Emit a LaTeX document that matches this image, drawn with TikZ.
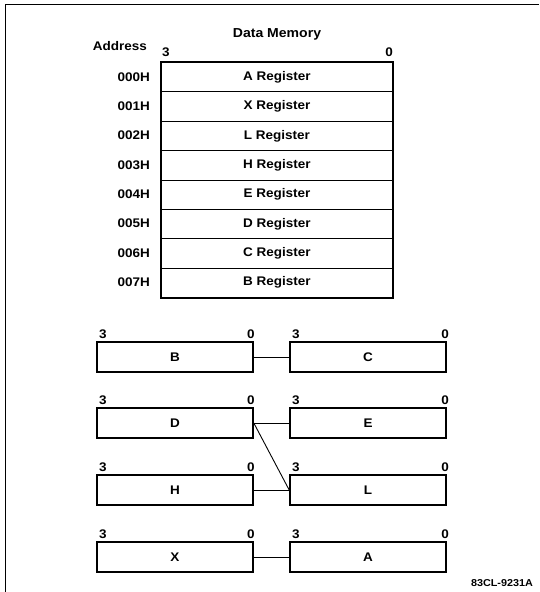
\documentclass[tikz,border=0pt]{standalone}
\usepackage{fontspec}
\setmainfont[FakeStretch=1.08]{Liberation Sans}
\begin{document}
\begin{tikzpicture}[x=1pt,y=-1pt,
  every node/.style={font=\fontsize{12.5}{13}\selectfont\bfseries, inner sep=0pt},
  row/.style={draw, line width=0.9pt, minimum width=231pt, minimum height=29.375pt, anchor=north west},
  reg/.style={draw, line width=1.6pt, minimum width=156pt, minimum height=30pt},
  bit/.style={anchor=south},
  addr/.style={anchor=east},
  link/.style={line width=0.9pt}]
\useasboundingbox (0,0) rectangle (539,592);
% frame
\draw[line width=1.6pt] (5.5,592) -- (5.5,4.5) -- (539,4.5);
% data memory
\node (title) at (277,34) {\fontsize{13}{14}\selectfont Data Memory};
\node (addrhdr) at (120,46) {Address};
\node[bit] (m3) at (166,57) {3};
\node[bit] (m0) at (389,57) {0};
\foreach \i/\r in {0/A,1/X,2/L,3/H,4/E,5/D,6/C,7/B}{
  \node[row] (r\i) at (161,{62+29.375*\i}) {\r{} Register};
  \node[addr] (a\i) at (150,{62+29.375*\i+14.7}) {00\i H};
}
\draw[line width=1.6pt] (r0.north west) rectangle (r7.south east);
% register pairs
\foreach \n/\m/\y in {B/C/357,D/E/423,H/L/490,X/A/557}{
  \node[reg] (\n) at (175,\y) {\n};
  \node[reg] (\m) at (368,\y) {\m};
  \node[bit] (\n3) at (103,\y-18) {3};
  \node[bit] (\n0) at (251,\y-18) {0};
  \node[bit] (\m3) at (296,\y-18) {3};
  \node[bit] (\m0) at (445,\y-18) {0};
}
\draw[link] (B.east) -- (C.west);
\draw[link] (D.east) -- (E.west);
\draw[link] (D.east) -- (L.west);
\draw[link] (H.east) -- (L.west);
\draw[link] (X.east) -- (A.west);
\node (code) at (502,583) {\fontsize{10}{11}\selectfont 83CL-9231A};
\end{tikzpicture}
\end{document}
